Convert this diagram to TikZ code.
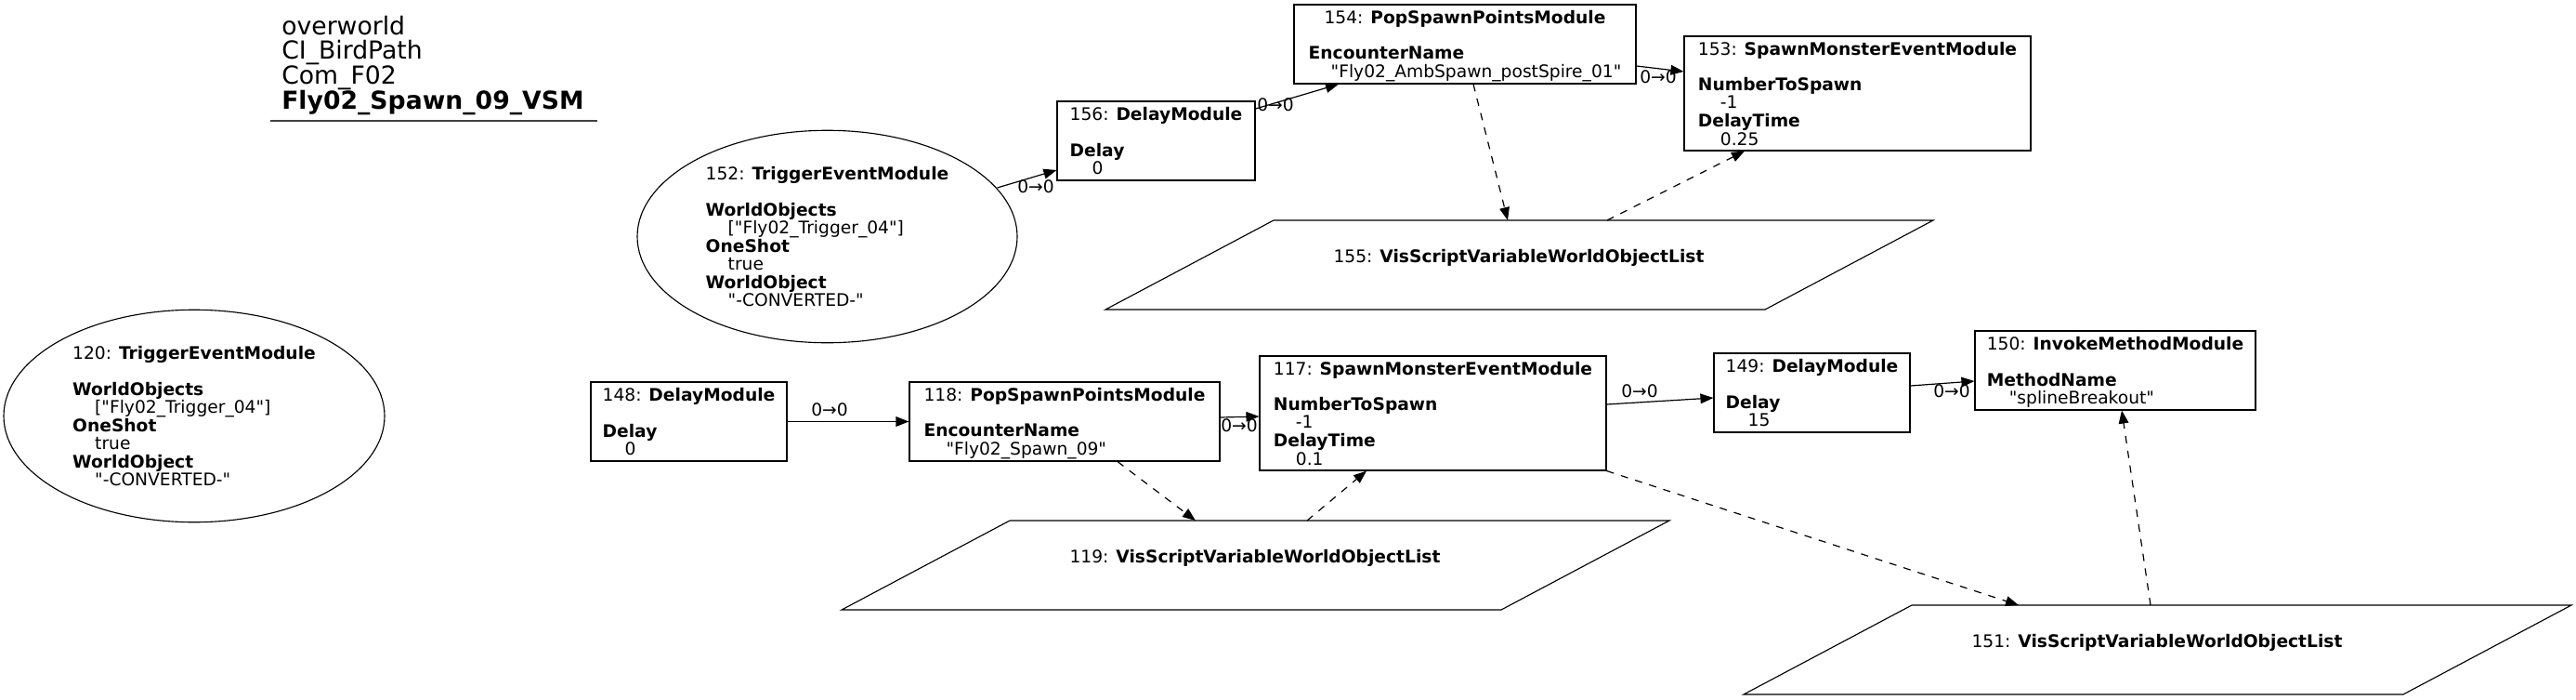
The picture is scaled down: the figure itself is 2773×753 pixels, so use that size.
\documentclass[tikz,border=0pt]{standalone}
\usepackage{fontspec}
\setmainfont{DejaVu Sans}[Ligatures=TeXOff]
\usetikzlibrary{arrows.meta,calc,shapes.geometric}
\newcommand{\myind}{\hspace*{18pt}}
\newcommand{\tstrut}{\rule{0pt}{15pt}}
\newcommand{\parashape}[1]{\draw[shapeline] ($(#1)+(-445,56)$) -- ($(#1)+(-264,-40)$) -- ($(#1)+(446,-40)$) -- ($(#1)+(265,56)$) -- cycle;}
\begin{document}
\begin{tikzpicture}[x=0.75pt,y=-0.75pt,
  every node/.style={font=\fontsize{14}{14}\selectfont, inner sep=0pt},
  shapeline/.style={draw=black, line width=0.85pt},
  boxsz/.style 2 args={rectangle, shapeline, minimum width=#1*0.75pt, minimum height=#2*0.75pt},
  ellsz/.style 2 args={ellipse, shapeline, minimum width=#1*0.75pt, minimum height=#2*0.75pt},
  titletext/.style={anchor=base west, font=\fontsize{20}{20}\selectfont},
  lbl/.style={font=\fontsize{14}{14}\selectfont},
  edge/.style={-{Triangle[length=10.5pt,width=8pt]}, line width=0.9pt},
  dedge/.style={edge, dash pattern=on 6pt off 6pt}
]
\fill[white] (0,0) rectangle (2773,753);
\useasboundingbox (0,0) rectangle (2773,753);

% title
\node[titletext] (t1) at (303,37) {overworld};
\node[titletext] (t2) at (303,63) {CI\_BirdPath};
\node[titletext] (t3) at (303,90) {Com\_F02};
\node[titletext] (t4) at (303,117) {\textbf{Fly02\_Spawn\_09\_VSM}};
\draw[line width=1pt, black!75] (291,130) -- (643,130);

% ellipses
\node[ellsz={410}{225}] (n120) at (209,447.5) {\begin{tabular}{@{}l@{}}\tstrut 120: \textbf{TriggerEventModule}\\ \\ \textbf{WorldObjects}\\ \myind["Fly02\_Trigger\_04"]\\ \textbf{OneShot}\\ \myind true\\ \textbf{WorldObject}\\ \myind"-CONVERTED-"\end{tabular}};
\node[ellsz={409}{225}] (n152) at (890.5,254.5) {\begin{tabular}{@{}l@{}}\tstrut 152: \textbf{TriggerEventModule}\\ \\ \textbf{WorldObjects}\\ \myind["Fly02\_Trigger\_04"]\\ \textbf{OneShot}\\ \myind true\\ \textbf{WorldObject}\\ \myind"-CONVERTED-"\end{tabular}};

% boxes
\node[boxsz={213}{85}] (n156) at (1244.5,151.5) {\begin{tabular}{@{}l@{}}\multicolumn{1}{@{}c@{}}{\tstrut 156: \textbf{DelayModule}}\\ \\ \textbf{Delay}\\ \myind 0\end{tabular}};
\node[boxsz={368}{85}] (n154) at (1577,47.5) {\begin{tabular}{@{}l@{}}\multicolumn{1}{@{}c@{}}{\tstrut 154: \textbf{PopSpawnPointsModule}}\\ \\ \textbf{EncounterName}\\ \myind"Fly02\_AmbSpawn\_postSpire\_01"\end{tabular}};
\node[boxsz={373}{123}] (n153) at (1999.5,100.5) {\begin{tabular}{@{}l@{}}\multicolumn{1}{@{}c@{}}{\tstrut 153: \textbf{SpawnMonsterEventModule}}\\ \\ \textbf{NumberToSpawn}\\ \myind -1\\ \textbf{DelayTime}\\ \myind 0.25\end{tabular}};
\node[boxsz={211}{85}] (n148) at (741.5,453.5) {\begin{tabular}{@{}l@{}}\multicolumn{1}{@{}c@{}}{\tstrut 148: \textbf{DelayModule}}\\ \\ \textbf{Delay}\\ \myind 0\end{tabular}};
\node[boxsz={334}{85}] (n118) at (1146,453.5) {\begin{tabular}{@{}l@{}}\multicolumn{1}{@{}c@{}}{\tstrut 118: \textbf{PopSpawnPointsModule}}\\ \\ \textbf{EncounterName}\\ \myind"Fly02\_Spawn\_09"\end{tabular}};
\node[boxsz={373}{123}] (n117) at (1542.5,444.5) {\begin{tabular}{@{}l@{}}\multicolumn{1}{@{}c@{}}{\tstrut 117: \textbf{SpawnMonsterEventModule}}\\ \\ \textbf{NumberToSpawn}\\ \myind -1\\ \textbf{DelayTime}\\ \myind 0.1\end{tabular}};
\node[boxsz={211}{85}] (n149) at (1950.5,422.5) {\begin{tabular}{@{}l@{}}\multicolumn{1}{@{}c@{}}{\tstrut 149: \textbf{DelayModule}}\\ \\ \textbf{Delay}\\ \myind 15\end{tabular}};
\node[boxsz={302}{85}] (n150) at (2277,398.5) {\begin{tabular}{@{}l@{}}\multicolumn{1}{@{}c@{}}{\tstrut 150: \textbf{InvokeMethodModule}}\\ \\ \textbf{MethodName}\\ \myind"splineBreakout"\end{tabular}};

% parallelograms
\node (n155) at (1635,277) {155: \textbf{VisScriptVariableWorldObjectList}};
\node (n119) at (1351,600) {119: \textbf{VisScriptVariableWorldObjectList}};
\node (n151) at (2322,691) {151: \textbf{VisScriptVariableWorldObjectList}};
\parashape{n155}
\parashape{n119}
\parashape{n151}

% solid edges
\draw[edge] ($(n152.center)+(183,-52.5)$) -- ($(n156.west)+(0,31.5)$);
\draw[edge] ($(n156.east)+(0,-34.5)$) -- ($(n154.south)+(-136,0)$);
\draw[edge] ($(n154.east)+(0,23.5)$) -- ($(n153.west)+(0,-23.5)$);
\draw[edge] (n148.east) -- (n118.west);
\draw[edge] ($(n118.east)+(0,-4.5)$) -- ($(n117.west)+(0,3.5)$);
\draw[edge] ($(n117.east)+(0,-9.5)$) -- ($(n149.west)+(0,5.5)$);
\draw[edge] ($(n149.east)+(0,-7.5)$) -- ($(n150.west)+(0,11.5)$);

% dashed edges
\draw[dedge] ($(n154.south)+(9,0)$) -- ($(n155)+(-12,-40)$);
\draw[dedge] ($(n155)+(95,-40)$) -- ($(n153.south)+(-121.5,0)$);
\draw[dedge] ($(n118.south)+(57,0)$) -- ($(n119)+(-64,-40)$);
\draw[dedge] ($(n119)+(56,-40)$) -- ($(n117.south)+(-71.5,0)$);
\draw[dedge] (n117.south east) -- ($(n151)+(-149,-40)$);
\draw[dedge] ($(n151)+(-7,-40)$) -- ($(n150.south)+(7,0)$);

% edge labels
\node[lbl] (l1) at (1115,201) {0→0};
\node[lbl] (l2) at (1373,113) {0→0};
\node[lbl] (l3) at (1785,83) {0→0};
\node[lbl] (l4) at (893,441) {0→0};
\node[lbl] (l5) at (1334,458) {0→0};
\node[lbl] (l6) at (1765,421) {0→0};
\node[lbl] (l7) at (2101,421) {0→0};
\end{tikzpicture}
\end{document}
